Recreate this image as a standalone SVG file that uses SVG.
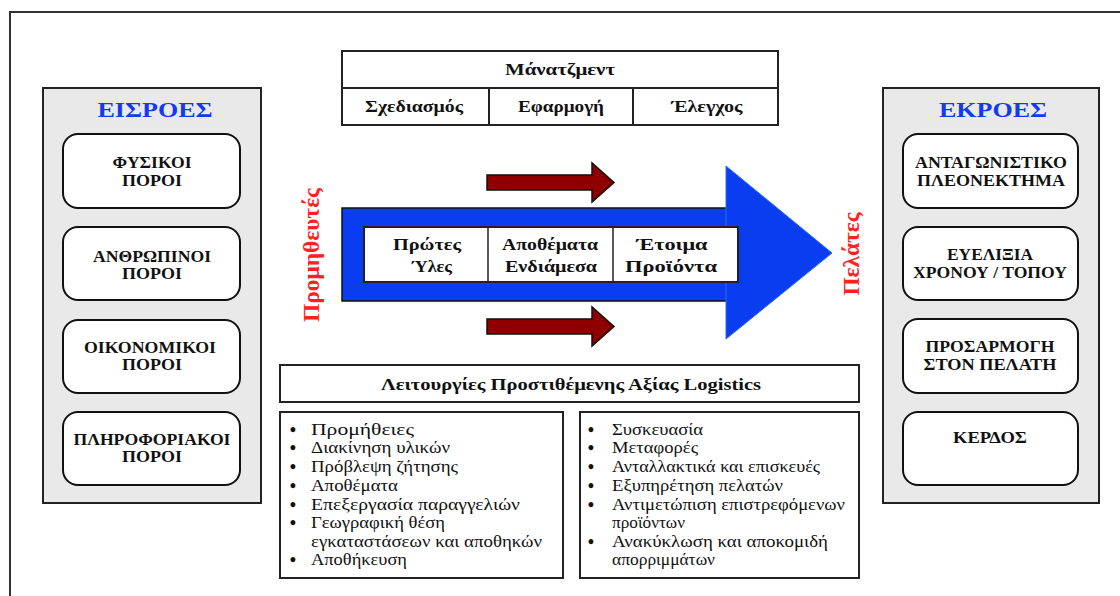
<svg xmlns="http://www.w3.org/2000/svg" width="1120" height="596" viewBox="0 0 1120 596" font-family="'Liberation Serif', 'Times New Roman', 'DejaVu Serif', serif">
<style>
  text { font-family: "Liberation Serif", "Times New Roman", "DejaVu Serif", serif; fill: #111; }
  .panel { fill: #e9e9e9; stroke: #222; stroke-width: 2; }
  .rbox { fill: #fff; stroke: #111; stroke-width: 2; }
  .box { fill: #fff; stroke: #222; stroke-width: 2; }
  .title { font-size: 22px; font-weight: bold; fill: #1538f5; text-anchor: middle; }
  .cap { font-size: 17px; font-weight: bold; text-anchor: middle; }
  .mg { font-size: 16px; font-weight: bold; text-anchor: middle; }
  .tb { font-size: 16px; font-weight: bold; text-anchor: middle; }
  .li { font-size: 16px; }
  .bul { font-size: 18px; font-weight: bold; text-anchor: middle; }
  .side { font-size: 23px; font-weight: bold; fill: #ff2020; text-anchor: middle; }
  .red { fill: #8e0000; stroke: #111; stroke-width: 1.5; stroke-linejoin: miter; }
</style>

<path d="M10,600 L10,12 L1125,12" fill="none" stroke="#333" stroke-width="2"/>

<g id="inputs">
  <rect class="panel" x="43" y="88" width="218" height="415"/>
  <text class="title" x="155" y="117" textLength="115" lengthAdjust="spacingAndGlyphs">ΕΙΣΡΟΕΣ</text>
  <g id="in-physical">
    <rect class="rbox" x="63" y="134" width="177" height="74" rx="15"/>
    <text class="cap" x="152" y="168" textLength="79" lengthAdjust="spacingAndGlyphs">ΦΥΣΙΚΟΙ</text>
    <text class="cap" x="152" y="186" textLength="60" lengthAdjust="spacingAndGlyphs">ΠΟΡΟΙ</text>
  </g>
  <g id="in-human">
    <rect class="rbox" x="63" y="227" width="177" height="73" rx="15"/>
    <text class="cap" x="152" y="262" textLength="118" lengthAdjust="spacingAndGlyphs">ΑΝΘΡΩΠΙΝΟΙ</text>
    <text class="cap" x="152" y="279" textLength="60" lengthAdjust="spacingAndGlyphs">ΠΟΡΟΙ</text>
  </g>
  <g id="in-financial">
    <rect class="rbox" x="63" y="320" width="177" height="73" rx="15"/>
    <text class="cap" x="150" y="353" textLength="132" lengthAdjust="spacingAndGlyphs">ΟΙΚΟΝΟΜΙΚΟΙ</text>
    <text class="cap" x="152" y="370" textLength="60" lengthAdjust="spacingAndGlyphs">ΠΟΡΟΙ</text>
  </g>
  <g id="in-information">
    <rect class="rbox" x="63" y="412" width="177" height="73" rx="15"/>
    <text class="cap" x="152" y="445" textLength="157" lengthAdjust="spacingAndGlyphs">ΠΛΗΡΟΦΟΡΙΑΚΟΙ</text>
    <text class="cap" x="152" y="462" textLength="60" lengthAdjust="spacingAndGlyphs">ΠΟΡΟΙ</text>
  </g>
</g>

<g id="outputs">
  <rect class="panel" x="883" y="88" width="216" height="415"/>
  <text class="title" x="993" y="117" textLength="108" lengthAdjust="spacingAndGlyphs">ΕΚΡΟΕΣ</text>
  <g id="out-advantage">
    <rect class="rbox" x="903" y="134" width="175" height="74" rx="15"/>
    <text class="cap" x="991" y="168" textLength="152" lengthAdjust="spacingAndGlyphs">ΑΝΤΑΓΩΝΙΣΤΙΚΟ</text>
    <text class="cap" x="991" y="186" textLength="148" lengthAdjust="spacingAndGlyphs">ΠΛΕΟΝΕΚΤΗΜΑ</text>
  </g>
  <g id="out-flexibility">
    <rect class="rbox" x="903" y="227" width="175" height="73" rx="15"/>
    <text class="cap" x="990" y="260" textLength="86" lengthAdjust="spacingAndGlyphs">ΕΥΕΛΙΞΙΑ</text>
    <text class="cap" x="990" y="278" textLength="154" lengthAdjust="spacingAndGlyphs">ΧΡΟΝΟΥ / ΤΟΠΟΥ</text>
  </g>
  <g id="out-customization">
    <rect class="rbox" x="903" y="319" width="175" height="74" rx="15"/>
    <text class="cap" x="990" y="352" textLength="129" lengthAdjust="spacingAndGlyphs">ΠΡΟΣΑΡΜΟΓΗ</text>
    <text class="cap" x="990" y="370" textLength="133" lengthAdjust="spacingAndGlyphs">ΣΤΟΝ ΠΕΛΑΤΗ</text>
  </g>
  <g id="out-profit">
    <rect class="rbox" x="903" y="412" width="175" height="73" rx="15"/>
    <text class="cap" x="990" y="443" textLength="74" lengthAdjust="spacingAndGlyphs">ΚΕΡΔΟΣ</text>
  </g>
</g>

<g id="management">
  <rect class="box" x="342" y="51" width="436" height="74"/>
  <line x1="342" y1="88" x2="778" y2="88" stroke="#222" stroke-width="2"/>
  <line x1="489" y1="88" x2="489" y2="125" stroke="#222" stroke-width="2"/>
  <line x1="633" y1="88" x2="633" y2="125" stroke="#222" stroke-width="2"/>
  <text class="mg" x="560" y="75" textLength="110" lengthAdjust="spacingAndGlyphs">Μάνατζμεντ</text>
  <text class="mg" x="414" y="112" textLength="98" lengthAdjust="spacingAndGlyphs">Σχεδιασμός</text>
  <text class="mg" x="561" y="112" textLength="86" lengthAdjust="spacingAndGlyphs">Εφαρμογή</text>
  <text class="mg" x="707" y="112" textLength="71" lengthAdjust="spacingAndGlyphs">Έλεγχος</text>
</g>

<g id="connectors">
  <path class="red" d="M487,175 L592,175 L592,163 L614,182.5 L592,202 L592,190 L487,190 Z"/>
  <path class="red" d="M487,319 L592,319 L592,307 L614,326.5 L592,346 L592,334 L487,334 Z"/>
  <rect x="342" y="208" width="390" height="93" fill="#0a3cf0" stroke="#111" stroke-width="1.5"/>
  <polygon points="726,166 832,253 726,339" fill="#0a3cf0" stroke="#2f6bff" stroke-width="1"/>
</g>

<g id="material-flow">
  <rect class="box" x="364" y="227" width="374" height="55" stroke-width="1.5"/>
  <line x1="488" y1="227" x2="488" y2="282" stroke="#222" stroke-width="1.5"/>
  <line x1="613" y1="227" x2="613" y2="282" stroke="#222" stroke-width="1.5"/>
  <text class="tb" x="427" y="250" textLength="68" lengthAdjust="spacingAndGlyphs">Πρώτες</text>
  <text class="tb" x="432" y="272" textLength="40" lengthAdjust="spacingAndGlyphs">Ύλες</text>
  <text class="tb" x="550" y="250" textLength="96" lengthAdjust="spacingAndGlyphs">Αποθέματα</text>
  <text class="tb" x="551" y="272" textLength="92" lengthAdjust="spacingAndGlyphs">Ενδιάμεσα</text>
  <text class="tb" x="672" y="250" textLength="71" lengthAdjust="spacingAndGlyphs">Έτοιμα</text>
  <text class="tb" x="671" y="272" textLength="92" lengthAdjust="spacingAndGlyphs">Προϊόντα</text>
</g>

<g id="suppliers">
  <text class="side" transform="translate(319,255) rotate(-90)" textLength="134" lengthAdjust="spacingAndGlyphs">Προμηθευτές</text>
</g>
<g id="customers">
  <text class="side" transform="translate(859,254) rotate(-90)" textLength="83" lengthAdjust="spacingAndGlyphs">Πελάτες</text>
</g>

<g id="value-functions">
  <rect class="box" x="280" y="365" width="579" height="37"/>
  <text class="tb" x="571" y="390" textLength="380" lengthAdjust="spacingAndGlyphs">Λειτουργίες Προστιθέμενης Αξίας Logistics</text>
</g>

<g id="functions-left">
  <rect class="box" x="280" y="412" width="283" height="166"/>
  <text class="bul" x="293" y="436">•</text>
  <text class="bul" x="293" y="454">•</text>
  <text class="bul" x="293" y="473">•</text>
  <text class="bul" x="293" y="492">•</text>
  <text class="bul" x="293" y="511">•</text>
  <text class="bul" x="293" y="529">•</text>
  <text class="bul" x="293" y="566">•</text>
  <text class="li" x="311" y="435" textLength="103" lengthAdjust="spacingAndGlyphs">Προμήθειες</text>
  <text class="li" x="311" y="453" textLength="139" lengthAdjust="spacingAndGlyphs">Διακίνηση υλικών</text>
  <text class="li" x="311" y="472" textLength="147" lengthAdjust="spacingAndGlyphs">Πρόβλεψη ζήτησης</text>
  <text class="li" x="311" y="491" textLength="87" lengthAdjust="spacingAndGlyphs">Αποθέματα</text>
  <text class="li" x="311" y="510" textLength="209" lengthAdjust="spacingAndGlyphs">Επεξεργασία παραγγελιών</text>
  <text class="li" x="311" y="528" textLength="134" lengthAdjust="spacingAndGlyphs">Γεωγραφική θέση</text>
  <text class="li" x="311" y="547" textLength="231" lengthAdjust="spacingAndGlyphs">εγκαταστάσεων και αποθηκών</text>
  <text class="li" x="311" y="565" textLength="96" lengthAdjust="spacingAndGlyphs">Αποθήκευση</text>
</g>

<g id="functions-right">
  <rect class="box" x="580" y="412" width="279" height="166"/>
  <text class="bul" x="591" y="436">•</text>
  <text class="bul" x="591" y="454">•</text>
  <text class="bul" x="591" y="473">•</text>
  <text class="bul" x="591" y="492">•</text>
  <text class="bul" x="591" y="511">•</text>
  <text class="bul" x="591" y="548">•</text>
  <text class="li" x="612" y="435" textLength="91" lengthAdjust="spacingAndGlyphs">Συσκευασία</text>
  <text class="li" x="612" y="453" textLength="86" lengthAdjust="spacingAndGlyphs">Μεταφορές</text>
  <text class="li" x="612" y="472" textLength="208" lengthAdjust="spacingAndGlyphs">Ανταλλακτικά και επισκευές</text>
  <text class="li" x="612" y="491" textLength="171" lengthAdjust="spacingAndGlyphs">Εξυπηρέτηση πελατών</text>
  <text class="li" x="612" y="510" textLength="233" lengthAdjust="spacingAndGlyphs">Αντιμετώπιση επιστρεφόμενων</text>
  <text class="li" x="612" y="528" textLength="73" lengthAdjust="spacingAndGlyphs">προϊόντων</text>
  <text class="li" x="612" y="547" textLength="216" lengthAdjust="spacingAndGlyphs">Ανακύκλωση και αποκομιδή</text>
  <text class="li" x="612" y="565" textLength="103" lengthAdjust="spacingAndGlyphs">απορριμμάτων</text>
</g>
</svg>
